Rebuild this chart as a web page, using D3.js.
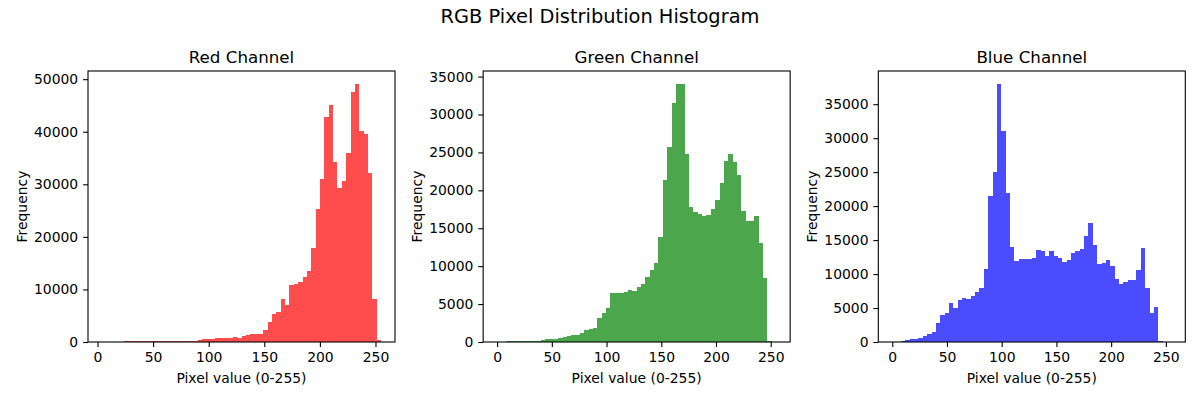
<!DOCTYPE html>
<html>
<head>
<meta charset="utf-8">
<script src="https://cdn.jsdelivr.net/npm/d3@7"></script>
<style>
  body { margin: 0; background: #fff; }
  svg text { font-family: "DejaVu Sans", sans-serif; fill: #000; }
</style>
</head>
<body>
<div id="chart"></div>
<script>
// histogram counts, 64 bins per channel
const redCounts = [0, 0, 0, 0, 0, 190, 190, 190, 190, 190, 190, 190, 190, 190, 190, 190,
  190, 190, 190, 190, 190, 190, 450, 570, 570, 570, 760, 760, 760, 825, 950, 825,
  1140, 1330, 1520, 1520, 1520, 2280, 3800, 5330, 5710, 8180, 7040, 10850, 11040, 11420, 12370, 13510,
  17890, 25310, 31020, 42820, 45110, 34260, 29310, 30640, 35970, 47580, 49100, 40160, 39590, 32160, 8180, 380];
const greenCounts = [0, 0, 132, 132, 132, 132, 132, 132, 132, 132, 264, 396, 396, 396, 528, 660,
  791, 880, 967, 1187, 1600, 1740, 1847, 3166, 3825, 4485, 6464, 6464, 6464, 6596, 6860, 6727,
  7255, 7650, 8574, 9498, 10421, 13851, 21370, 25722, 31527, 34033, 34033, 24800, 17808, 17148, 16885, 16621,
  16753, 17544, 18731, 20974, 23876, 24800, 23744, 22029, 17280, 15961, 15961, 16621, 13059, 8442, 132, 0];
const blueCounts = [0, 0, 147, 294, 442, 442, 589, 883, 1178, 1472, 2798, 3975, 4270, 5742, 5006, 6184,
  6479, 6331, 6773, 7362, 7951, 10749, 21497, 25031, 37988, 31068, 21939, 13988, 11926, 12221, 12221, 12221,
  12368, 13546, 13399, 12663, 13399, 12663, 12368, 11779, 12074, 13104, 13399, 13693, 15607, 17522, 14282, 11485,
  11632, 12074, 11190, 9276, 8540, 8834, 9129, 9129, 10601, 13840, 7951, 4270, 5153, 147, 0, 0];

// min / max pixel value of each channel (bin range)
const redRange = [4, 255];
const greenRange = [0, 255];
const blueRange = [0, 255];

const channelNames = ['Red Channel', 'Green Channel', 'Blue Channel'];
const xTicks = [0, 50, 100, 150, 200, 250];
const redYTicks = [0, 10000, 20000, 30000, 40000, 50000];
const greenYTicks = [0, 5000, 10000, 15000, 20000, 25000, 30000, 35000];
const blueYTicks = [0, 5000, 10000, 15000, 20000, 25000, 30000, 35000];

const channels = [
  { name: channelNames[0], counts: redCounts, range: redRange, yTicks: redYTicks, color: 'rgb(255,0,0)' },
  { name: channelNames[1], counts: greenCounts, range: greenRange, yTicks: greenYTicks, color: 'rgb(0,128,0)' },
  { name: channelNames[2], counts: blueCounts, range: blueRange, yTicks: blueYTicks, color: 'rgb(0,0,255)' }
];

const W = 1200, H = 400;
const plotW = 307, plotH = 271, plotTop = 71, firstLeft = 88, gap = 395.15;
const tick = 4.9, lw = 1.1;

const svg = d3.select('#chart').append('svg')
  .attr('width', W)
  .attr('height', H);

svg.append('text')
  .attr('x', W / 2)
  .attr('y', 23.3)
  .attr('text-anchor', 'middle')
  .style('font-size', '19.4px')
  .text('RGB Pixel Distribution Histogram');

channels.forEach((ch, k) => {
  const left = firstLeft + k * gap;
  const g = svg.append('g').attr('transform', `translate(${left},${plotTop})`);

  const n = ch.counts.length;
  const [lo, hi] = ch.range;
  const pad = (hi - lo) * 0.05;
  const x = d3.scaleLinear().domain([lo - pad, hi + pad]).range([0, plotW]);
  const yMax = d3.max(ch.counts) * 1.05;
  const y = d3.scaleLinear().domain([0, yMax]).range([plotH, 0]);

  const bins = ch.counts.map((c, i) => ({
    x0: lo + i * (hi - lo) / n,
    x1: lo + (i + 1) * (hi - lo) / n,
    count: c
  }));

  g.selectAll('rect.bar')
    .data(bins.filter(d => d.count > 0))
    .enter()
    .append('rect')
    .attr('class', 'bar')
    .attr('x', d => x(d.x0))
    .attr('width', d => x(d.x1) - x(d.x0))
    .attr('y', d => y(d.count))
    .attr('height', d => plotH - y(d.count))
    .attr('fill', ch.color)
    .attr('fill-opacity', 0.7)
    .attr('shape-rendering', 'crispEdges');

  // axes
  const xAxis = g.append('g')
    .attr('transform', `translate(0,${plotH})`)
    .call(d3.axisBottom(x).tickValues(xTicks).tickSizeInner(tick).tickSizeOuter(0).tickPadding(4.9));
  const yAxis = g.append('g')
    .call(d3.axisLeft(y).tickValues(ch.yTicks).tickSizeInner(tick).tickSizeOuter(0).tickPadding(4.9)
      .tickFormat(d3.format('d')));

  [xAxis, yAxis].forEach(a => {
    a.select('.domain').remove();
    a.selectAll('.tick line').attr('stroke', '#000').attr('stroke-width', lw);
    a.selectAll('.tick text')
      .style('font-size', '13.9px')
      .style('font-family', '"DejaVu Sans", sans-serif')
      .attr('fill', '#000');
  });

  // frame
  g.append('rect')
    .attr('width', plotW)
    .attr('height', plotH)
    .attr('fill', 'none')
    .attr('stroke', '#000')
    .attr('stroke-width', lw);

  g.append('text')
    .attr('x', plotW / 2)
    .attr('y', -7.7)
    .attr('text-anchor', 'middle')
    .style('font-size', '16.7px')
    .text(ch.name);

  g.append('text')
    .attr('x', plotW / 2)
    .attr('y', 312)
    .attr('text-anchor', 'middle')
    .style('font-size', '13.9px')
    .text('Pixel value (0-255)');

  g.append('text')
    .attr('transform', `translate(-61.5,${plotH / 2}) rotate(-90)`)
    .attr('text-anchor', 'middle')
    .style('font-size', '13.9px')
    .text('Frequency');
});
</script>
</body>
</html>
